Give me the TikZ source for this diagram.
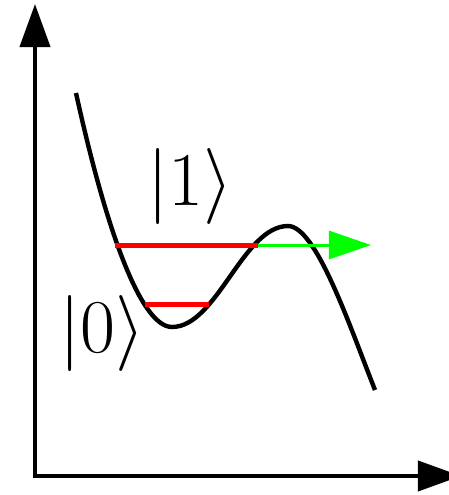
\RequirePackage{fix-cm}
\documentclass[tikz,border=0pt]{standalone}
\usetikzlibrary{arrows.meta}
\begin{document}
\begin{tikzpicture}[x=0.5pt,y=-0.5pt,
  axis/.style={line width=2pt,-{Triangle[length=21.5pt,width=15pt]}},
  pot/.style={line width=2.2pt,line join=round},
  level/.style={red,line width=2.5pt},
  escape/.style={green,line width=1.5pt,-{Triangle[length=21pt,width=14pt]}},
  ket/.style={inner sep=0pt,font=\fontsize{38}{42}\selectfont}]
\useasboundingbox (0,0) rectangle (449,495);
\coordinate (ytip) at (35,4);
\coordinate (xtip) at (461,476);
\draw[axis] (35,477) -- (ytip);
\draw[axis] (33,476) -- (xtip);
\draw[pot] (76,93) .. controls (105,225) and (140,327) .. (172,327)
  .. controls (217,327) and (243,226) .. (288,226)
  .. controls (316,226) and (349.5,325.5) .. (375,390);
\coordinate (l0a) at (145,304);
\coordinate (l0b) at (209,304);
\coordinate (l1a) at (115,245);
\coordinate (l1b) at (258,245);
\coordinate (g) at (371,245);
\draw[level] (l0a) -- (l0b);
\draw[level] (l1a) -- (l1b);
\draw[escape] (l1b) -- (g);
\node[ket] (k1) at (190,186.5) {$|1\rangle$};
\node[ket] (k0) at (102,333.5) {$|0\rangle$};
\end{tikzpicture}
\end{document}
